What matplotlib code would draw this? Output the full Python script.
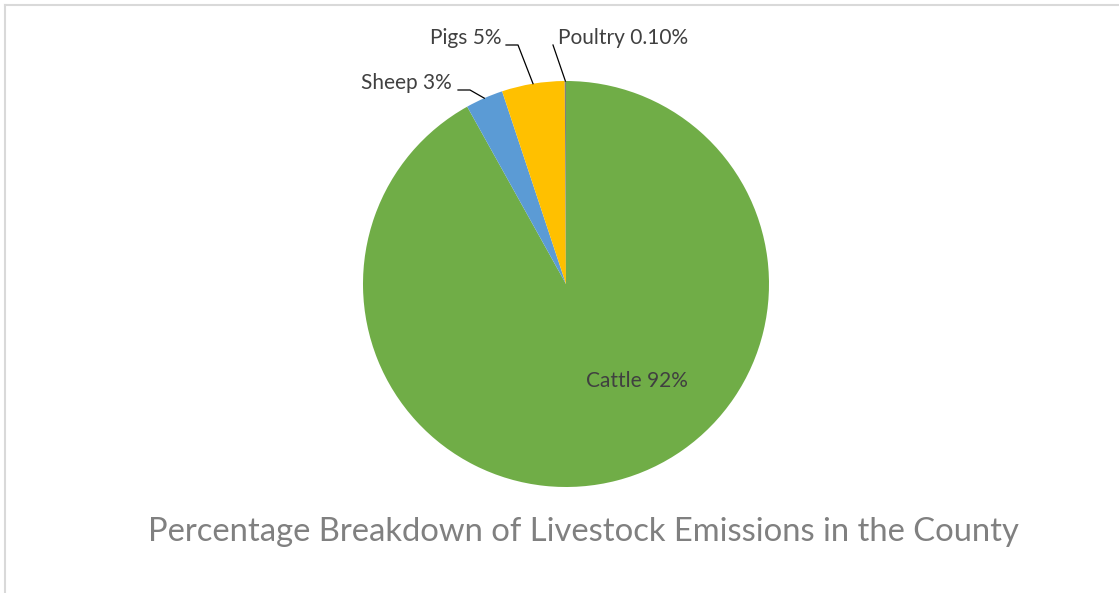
import numpy as np
import matplotlib
matplotlib.use("Agg")
import matplotlib.pyplot as plt
from matplotlib.lines import Line2D

categories = ["Cattle", "Sheep", "Pigs", "Poultry"]
values = [92, 3, 5, 0.1]
label_texts = ["Cattle 92%", "Sheep 3%", "Pigs 5%", "Poultry 0.10%"]
colors = ["#70AD47", "#5B9BD5", "#FFC000", "#7F7F7F"]
title = "Percentage Breakdown of Livestock Emissions in the County"

W, H = 1119, 593
fig = plt.figure(figsize=(W / 100, H / 100), dpi=100)
fig.patch.set_facecolor("white")

# chart border (top and left visible)
fig.add_artist(Line2D([4.5 / W, 4.5 / W], [0, 1 - 4.5 / H], transform=fig.transFigure, color="#D9D9D9", lw=1.5))
fig.add_artist(Line2D([4.5 / W, 1], [1 - 4.5 / H, 1 - 4.5 / H], transform=fig.transFigure, color="#D9D9D9", lw=1.5))

cx, cy, r = 566, 284, 203
ax = fig.add_axes([(cx - r) / W, (H - cy - r) / H, 2 * r / W, 2 * r / H])
wedges, _ = ax.pie(values, colors=colors, startangle=90, counterclock=False,
                   radius=1, wedgeprops=dict(linewidth=0))
ax.set_xlim(-1, 1)
ax.set_ylim(-1, 1)
ax.set_aspect("equal")
ax.axis("off")

def px(x, y):
    return ((x - cx) / r, (cy - y) / r)

lab_color = "#404040"
fs = 15
fam = ["Lato", "DejaVu Sans"]

# Cattle label inside
tx, ty = px(637, 381)
ax.text(tx, ty, label_texts[0], ha="center", va="center", fontsize=fs, color=lab_color, family=fam)

def edge_point(w):
    ang = np.deg2rad((w.theta1 + w.theta2) / 2)
    return np.cos(ang), np.sin(ang)

# Sheep
ex, ey = edge_point(wedges[1])
p1 = px(458, 90); p2 = px(470, 90)
ax.plot([p1[0], p2[0], ex], [p1[1], p2[1], ey], color="black", lw=0.9, clip_on=False)
t = px(452, 83)
ax.text(t[0], t[1], label_texts[1], ha="right", va="center", fontsize=fs, color=lab_color, family=fam)

# Pigs
ex, ey = edge_point(wedges[2])
p1 = px(506, 45); p2 = px(518, 45)
ax.plot([p1[0], p2[0], ex], [p1[1], p2[1], ey], color="black", lw=0.9, clip_on=False)
t = px(502, 38)
ax.text(t[0], t[1], label_texts[2], ha="right", va="center", fontsize=fs, color=lab_color, family=fam)

# Poultry
ex, ey = edge_point(wedges[3])
p1 = px(553, 45)
ax.plot([p1[0], ex], [p1[1], ey], color="black", lw=0.9, clip_on=False)
t = px(558, 38)
ax.text(t[0], t[1], label_texts[3], ha="left", va="center", fontsize=fs, color=lab_color, family=fam)

fig.text(583.5 / W, 1 - 532 / H, title, ha="center", va="center", fontsize=23.6,
         color="#808080", family=fam)

fig.savefig("out.png", dpi=100, facecolor="white")
